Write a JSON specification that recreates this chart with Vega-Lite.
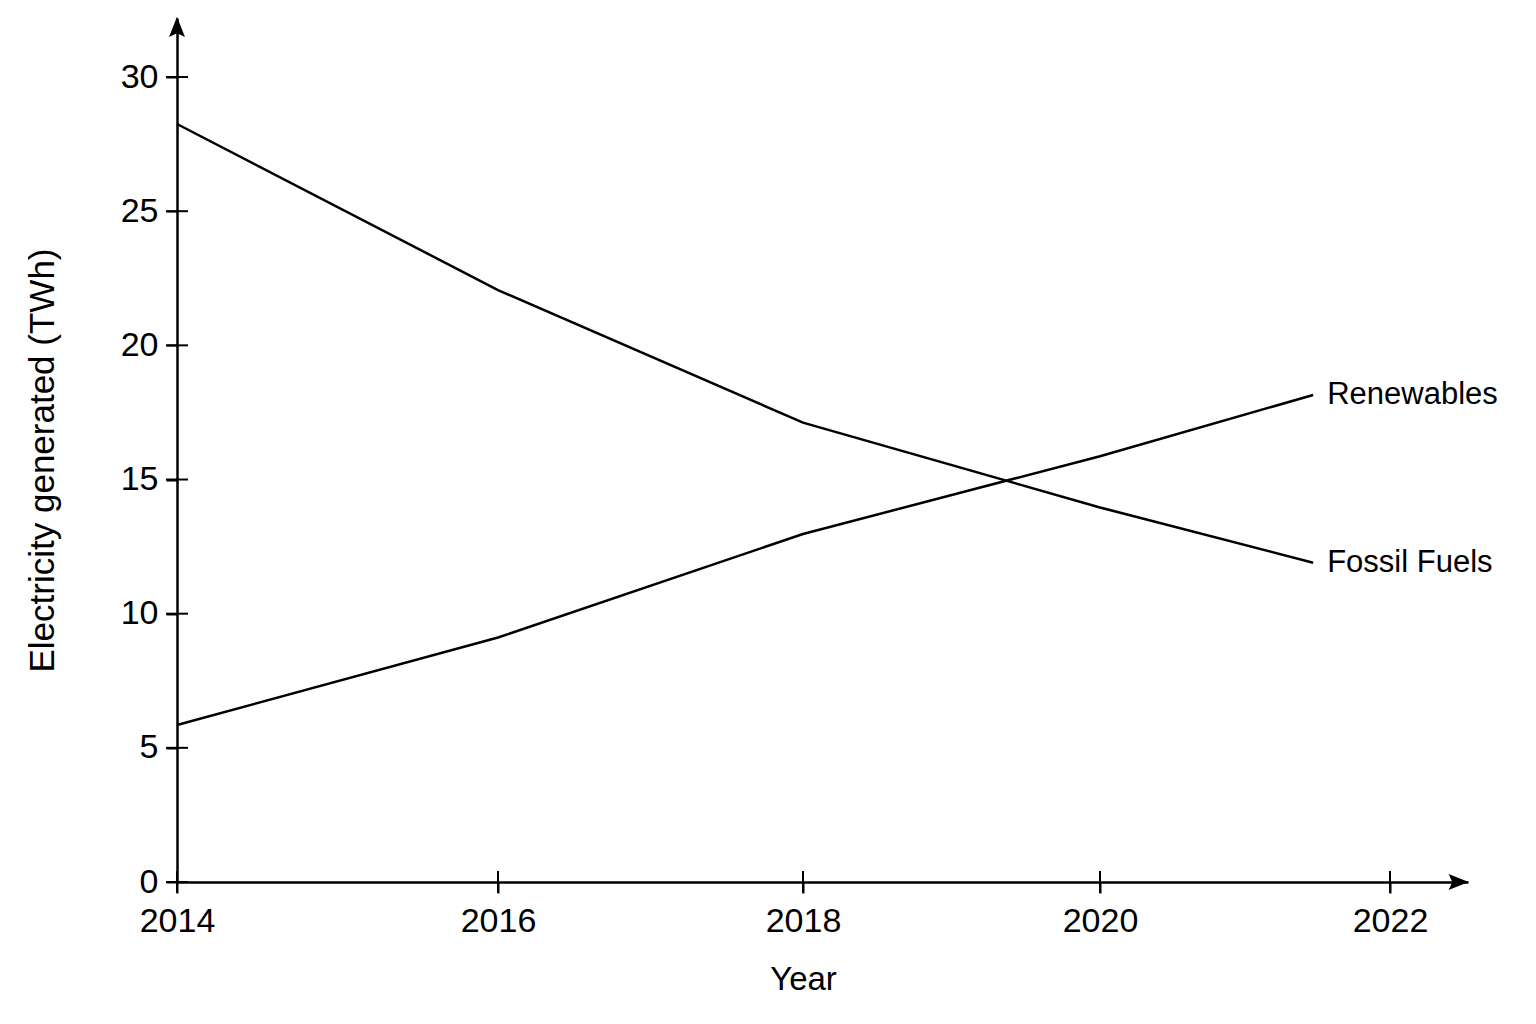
{
  "$schema": "https://vega.github.io/schema/vega-lite/v6.json",
  "width": 1291,
  "height": 864,
  "autosize": {"type": "none"},
  "padding": {"left": 177, "top": 18, "right": 68, "bottom": 142},
  "background": "white",
  "config": {
    "view": {"stroke": null},
    "font": "Liberation Sans",
    "axis": {
      "grid": false,
      "domainColor": "black",
      "domainWidth": 2.5,
      "tickColor": "black",
      "tickWidth": 2,
      "tickSize": 11,
      "labelColor": "black",
      "labelFont": "Liberation Sans",
      "labelFontSize": 34,
      "labelFlush": false,
      "labelOverlap": false,
      "titleColor": "black",
      "titleFont": "Liberation Sans",
      "titleFontWeight": "normal"
    }
  },
  "datasets": {
    "generation": [
      {"source": "Fossil Fuels", "year": 2014, "twh": 28.25},
      {"source": "Fossil Fuels", "year": 2016, "twh": 22.06},
      {"source": "Fossil Fuels", "year": 2018, "twh": 17.12},
      {"source": "Fossil Fuels", "year": 2020, "twh": 13.96},
      {"source": "Fossil Fuels", "year": 2021.47, "twh": 11.9},
      {"source": "Renewables", "year": 2014, "twh": 5.85},
      {"source": "Renewables", "year": 2016, "twh": 9.11},
      {"source": "Renewables", "year": 2018, "twh": 12.97},
      {"source": "Renewables", "year": 2020, "twh": 15.87},
      {"source": "Renewables", "year": 2021.47, "twh": 18.15}
    ],
    "axisTicks": [
      {"axis": "x", "year": 2014, "twh": 0},
      {"axis": "x", "year": 2016, "twh": 0},
      {"axis": "x", "year": 2018, "twh": 0},
      {"axis": "x", "year": 2020, "twh": 0},
      {"axis": "x", "year": 2022, "twh": 0},
      {"axis": "y", "year": 2014, "twh": 0},
      {"axis": "y", "year": 2014, "twh": 5},
      {"axis": "y", "year": 2014, "twh": 10},
      {"axis": "y", "year": 2014, "twh": 15},
      {"axis": "y", "year": 2014, "twh": 20},
      {"axis": "y", "year": 2014, "twh": 25},
      {"axis": "y", "year": 2014, "twh": 30}
    ],
    "arrows": [
      {"axis": "x", "year": 2022.47, "twh": 0},
      {"axis": "y", "year": 2014, "twh": 31.85}
    ]
  },
  "encoding": {
    "x": {
      "field": "year",
      "type": "quantitative",
      "scale": {
        "domain": [2014, 2016, 2018, 2020, 2022, 2022.538],
        "range": [0, 321, 626, 923, 1213, 1291],
        "nice": false,
        "zero": false
      },
      "axis": {
        "values": [2014, 2016, 2018, 2020, 2022],
        "format": "d",
        "title": "Year",
        "labelPadding": 11,
        "titleFontSize": 33,
        "titlePadding": 25,
        "titleX": 626
      }
    },
    "y": {
      "field": "twh",
      "type": "quantitative",
      "scale": {"domain": [0, 32.2], "nice": false},
      "axis": {
        "values": [0, 5, 10, 15, 20, 25, 30],
        "title": "Electricity generated (TWh)",
        "labelPadding": 8,
        "titleFontSize": 35,
        "titlePadding": 60,
        "titleY": 442
      }
    }
  },
  "layer": [
    {
      "data": {"name": "generation"},
      "mark": {"type": "line", "color": "black", "strokeWidth": 2.5},
      "encoding": {"detail": {"field": "source", "type": "nominal"}}
    },
    {
      "data": {"name": "generation"},
      "transform": [{"filter": "datum.year > 2021"}],
      "mark": {"type": "text", "align": "left", "baseline": "middle", "dx": 14, "fontSize": 31, "color": "black", "font": "Liberation Sans"},
      "encoding": {"text": {"field": "source", "type": "nominal"}}
    },
    {
      "data": {"name": "axisTicks"},
      "transform": [{"filter": "datum.axis == 'x'"}],
      "mark": {"type": "tick", "orient": "vertical", "size": 22, "thickness": 2, "color": "black", "opacity": 1}
    },
    {
      "data": {"name": "axisTicks"},
      "transform": [{"filter": "datum.axis == 'y'"}],
      "mark": {"type": "tick", "orient": "horizontal", "size": 22, "thickness": 2, "color": "black", "opacity": 1}
    },
    {
      "data": {"name": "arrows"},
      "transform": [{"filter": "datum.axis == 'x'"}],
      "mark": {"type": "point", "shape": "M1,0L-0.9,0.75L-0.55,0L-0.9,-0.75Z", "size": 450, "filled": true, "color": "black", "opacity": 1, "strokeWidth": 0}
    },
    {
      "data": {"name": "arrows"},
      "transform": [{"filter": "datum.axis == 'y'"}],
      "mark": {"type": "point", "shape": "M0,-1L0.75,0.9L0,0.55L-0.75,0.9Z", "size": 450, "filled": true, "color": "black", "opacity": 1, "strokeWidth": 0}
    }
  ]
}
